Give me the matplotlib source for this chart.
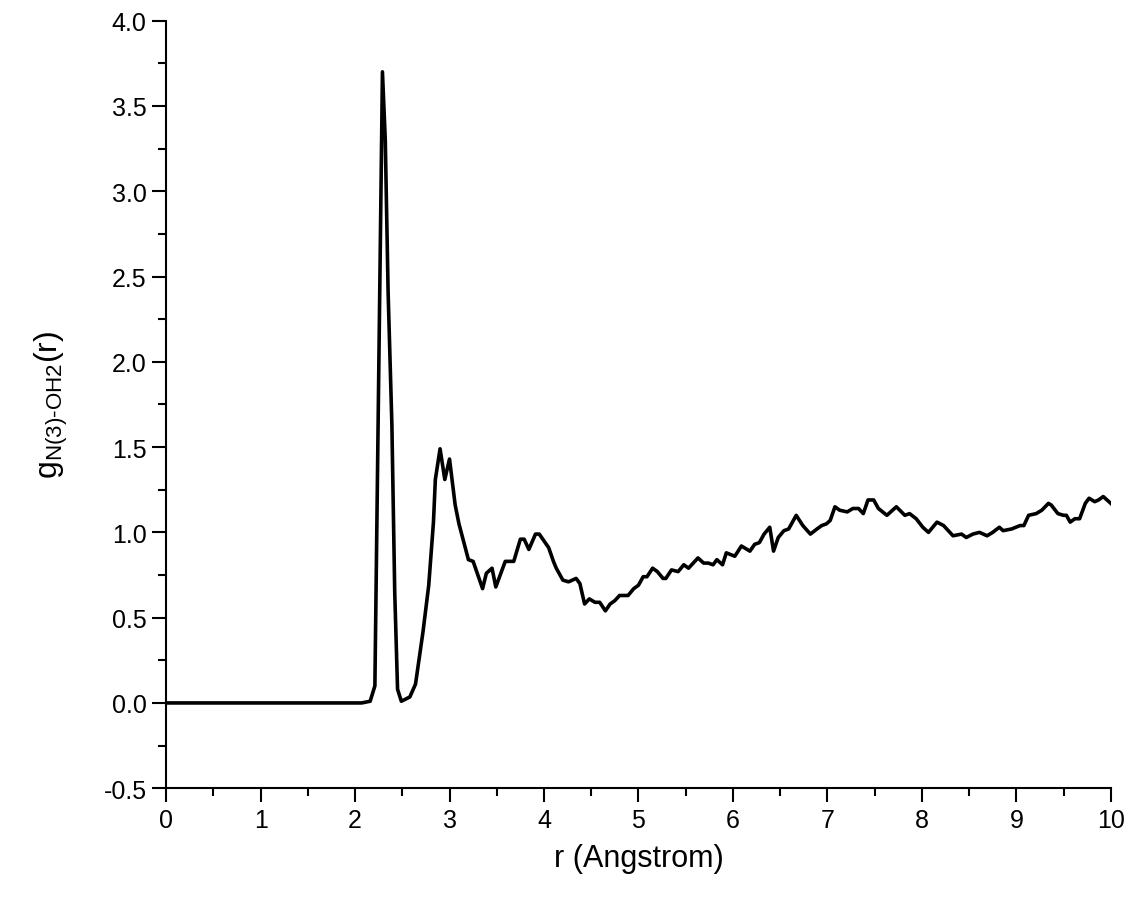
import matplotlib
matplotlib.use("Agg")
import matplotlib.pyplot as plt
from matplotlib.ticker import MultipleLocator, FormatStrFormatter

# r (Angstrom) and g(r)
r = [0.0, 2.07, 2.16, 2.21, 2.29, 2.32, 2.35, 2.39, 2.42, 2.45, 2.49, 2.58,
     2.64, 2.72, 2.78, 2.83, 2.85, 2.90, 2.95, 3.00, 3.06, 3.10, 3.20, 3.25,
     3.35, 3.39, 3.45, 3.49, 3.59, 3.68, 3.75, 3.79, 3.84, 3.91, 3.95, 4.05,
     4.10, 4.13, 4.20, 4.26, 4.34, 4.38, 4.43, 4.48, 4.54, 4.59, 4.65, 4.70,
     4.75, 4.80, 4.89, 4.95, 5.00, 5.05, 5.09, 5.15, 5.20, 5.26, 5.29, 5.35,
     5.42, 5.48, 5.53, 5.58, 5.63, 5.69, 5.74, 5.79, 5.83, 5.89, 5.93, 6.02,
     6.09, 6.18, 6.23, 6.28, 6.33, 6.39, 6.43, 6.48, 6.54, 6.59, 6.67, 6.74,
     6.82, 6.89, 6.94, 6.99, 7.03, 7.08, 7.13, 7.21, 7.27, 7.33, 7.38, 7.43,
     7.49, 7.54, 7.63, 7.73, 7.82, 7.87, 7.94, 8.01, 8.07, 8.16, 8.23, 8.28,
     8.33, 8.42, 8.47, 8.54, 8.61, 8.69, 8.75, 8.82, 8.86, 8.95, 9.04, 9.08,
     9.13, 9.21, 9.27, 9.34, 9.37, 9.44, 9.50, 9.53, 9.57, 9.62, 9.67, 9.73,
     9.77, 9.83, 9.87, 9.92, 9.96, 10.0]
g = [0.0, 0.0, 0.01, 0.10, 3.70, 3.30, 2.41, 1.63, 0.65, 0.08, 0.01, 0.035,
     0.11, 0.42, 0.69, 1.06, 1.31, 1.49, 1.31, 1.43, 1.16, 1.05, 0.84, 0.83,
     0.67, 0.76, 0.79, 0.68, 0.83, 0.83, 0.96, 0.96, 0.90, 0.99, 0.99, 0.91,
     0.83, 0.79, 0.72, 0.71, 0.73, 0.70, 0.58, 0.61, 0.59, 0.59, 0.54, 0.58,
     0.60, 0.63, 0.63, 0.67, 0.69, 0.74, 0.74, 0.79, 0.77, 0.73, 0.73, 0.78,
     0.77, 0.81, 0.79, 0.82, 0.85, 0.82, 0.82, 0.81, 0.84, 0.81, 0.88, 0.86,
     0.92, 0.89, 0.93, 0.94, 0.99, 1.03, 0.89, 0.97, 1.01, 1.02, 1.10, 1.04,
     0.99, 1.02, 1.04, 1.05, 1.07, 1.15, 1.13, 1.12, 1.14, 1.14, 1.11, 1.19,
     1.19, 1.14, 1.10, 1.15, 1.10, 1.11, 1.08, 1.03, 1.00, 1.06, 1.04, 1.01,
     0.98, 0.99, 0.97, 0.99, 1.00, 0.98, 1.00, 1.03, 1.01, 1.02, 1.04, 1.04,
     1.10, 1.11, 1.13, 1.17, 1.16, 1.11, 1.10, 1.10, 1.06, 1.08, 1.08, 1.17,
     1.20, 1.18, 1.19, 1.21, 1.19, 1.17]

plt.rcParams['font.family'] = ['Liberation Sans', 'DejaVu Sans']
plt.rcParams['mathtext.fontset'] = 'custom'
plt.rcParams['mathtext.rm'] = 'Liberation Sans'
plt.rcParams['mathtext.it'] = 'Liberation Sans'
plt.rcParams['axes.unicode_minus'] = False

fig = plt.figure(figsize=(11.3, 9.03), dpi=100)
ax = fig.add_axes([0.147, 0.126, 0.836, 0.850])

ax.plot(r, g, color='black', lw=2.6)

ax.set_xlim(0, 10)
ax.set_ylim(-0.5, 4.0)
ax.xaxis.set_major_locator(MultipleLocator(1))
ax.xaxis.set_minor_locator(MultipleLocator(0.5))
ax.yaxis.set_major_locator(MultipleLocator(0.5))
ax.yaxis.set_minor_locator(MultipleLocator(0.25))
ax.yaxis.set_major_formatter(FormatStrFormatter('%.1f'))

for side in ['top', 'right']:
    ax.spines[side].set_visible(False)
for side in ['left', 'bottom']:
    ax.spines[side].set_linewidth(1.5)

ax.tick_params(which='major', direction='out', length=10, width=1.5,
               labelsize=18, pad=4)
ax.tick_params(which='minor', direction='out', length=6, width=1.5)

ax.set_xlabel('r (Angstrom)', fontsize=22, labelpad=8)
ax.set_ylabel(r'g$_{\mathrm{N(3)\text{-}OH2}}$(r)', fontsize=23, labelpad=24)

plt.savefig('out.png', dpi=100)
